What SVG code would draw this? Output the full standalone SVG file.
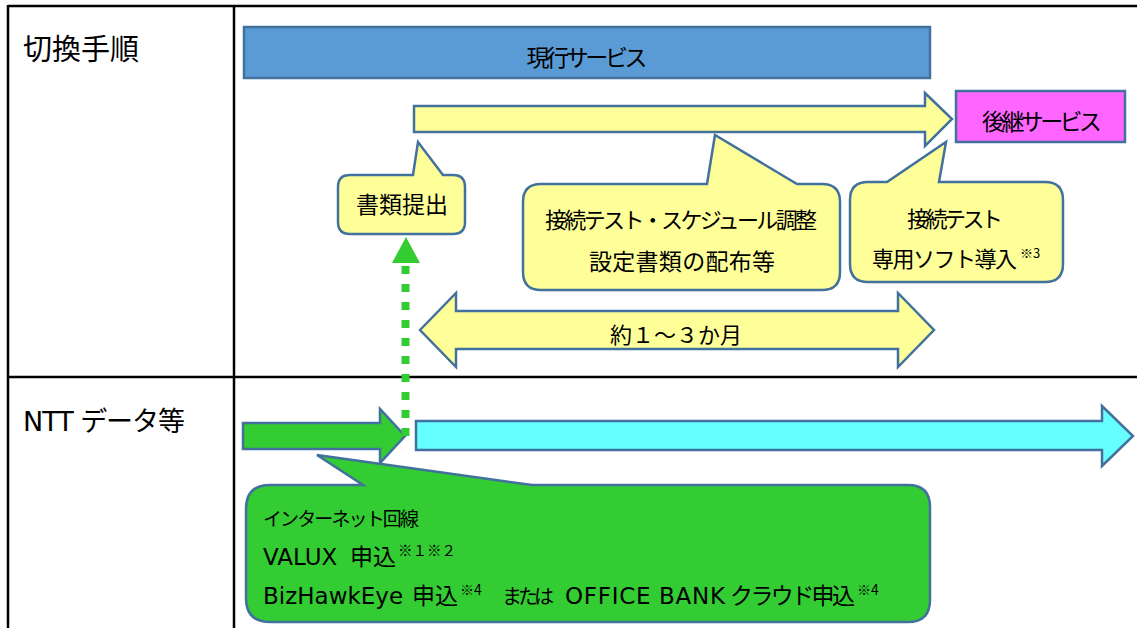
<svg xmlns="http://www.w3.org/2000/svg" width="1137" height="628" viewBox="0 0 1137 628">
<style>
.t{font-family:'DejaVu Sans','Noto Sans CJK JP',sans-serif;fill:#000}
.j{font-family:'Noto Sans CJK JP',sans-serif;fill:#000}
.grid{stroke:#000;stroke-width:2.5;fill:none}
.sh{stroke:#41719C;stroke-width:2.5;stroke-linejoin:miter}
.yel{fill:#FFFF99}
</style>
<rect width="1137" height="628" fill="#fff"/>
<g id="table">
<line class="grid" x1="8" y1="6" x2="1137" y2="6"/>
<line class="grid" x1="8" y1="5" x2="8" y2="628"/>
<line class="grid" x1="234" y1="6" x2="234" y2="628"/>
<line class="grid" x1="8" y1="377" x2="1137" y2="377"/>
<text class="j" x="23" y="60" font-size="29">切換手順</text>
<text class="t" x="23" y="431" font-size="27" textLength="162" lengthAdjust="spacing">NTT データ等</text>
</g>
<g id="connectors">
<polygon class="sh yel" points="414,106 925,106 925,93 952,119 925,146 925,132 414,132"/>
<polygon class="sh yel" points="420,330 456,293 456,311 898,311 898,293 934,330 898,367 898,349 456,349 456,367"/>
<text class="j" x="676" y="343" font-size="22" text-anchor="middle">約１～３か月</text>
<polygon class="sh" fill="#66FFFF" points="416,421 1102,421 1102,406 1133,436 1102,466 1102,450 416,450"/>
<polygon class="sh" fill="#33CC33" points="243,423 380,423 380,409 405,436 380,463 380,449 243,449"/>
<line x1="405.5" y1="436" x2="405.5" y2="263" stroke="#33CC33" stroke-width="8" stroke-dasharray="8 10"/>
<polygon fill="#33CC33" points="392,263 406,237 420,263"/>
</g>
<g id="current-service">
<rect class="sh" x="244" y="27" width="686" height="51" fill="#5B9BD5"/>
<text class="j" x="587" y="66" font-size="23" text-anchor="middle" textLength="121" lengthAdjust="spacing">現行サービス</text>
</g>
<g id="next-service">
<rect class="sh" x="956" y="91" width="169" height="51" fill="#FF66FF"/>
<text class="j" x="1042" y="130" font-size="23" text-anchor="middle" textLength="120" lengthAdjust="spacing">後継サービス</text>
</g>
<g id="callout-documents">
<path class="sh yel" d="M350,175 H413 L418,142 L443,175 H453 Q465,175 465,187 V222 Q465,234 453,234 H350 Q338,234 338,222 V187 Q338,175 350,175 Z"/>
<text class="j" x="402" y="213" font-size="23" text-anchor="middle">書類提出</text>
</g>
<g id="callout-schedule">
<path class="sh yel" d="M541,184 H707 L715,135 L797,184 H822 Q840,184 840,202 V272 Q840,290 822,290 H541 Q523,290 523,272 V202 Q523,184 541,184 Z"/>
<text class="j" x="681" y="228" font-size="22" text-anchor="middle" textLength="272" lengthAdjust="spacing">接続テスト・スケジュール調整</text>
<text class="j" x="682" y="270" font-size="23" text-anchor="middle" textLength="186" lengthAdjust="spacing">設定書類の配布等</text>
</g>
<g id="callout-software">
<path class="sh yel" d="M868,182 H887 L946,142 L939,182 H1045 Q1063,182 1063,200 V264 Q1063,282 1045,282 H868 Q850,282 850,264 V200 Q850,182 868,182 Z"/>
<text class="j" x="955" y="227" font-size="22" text-anchor="middle" textLength="96" lengthAdjust="spacing">接続テスト</text>
<text class="j" x="872" y="267" font-size="22" textLength="145" lengthAdjust="spacing">専用ソフト導入</text>
<text class="j" x="1020" y="258" font-size="13">※3</text>
</g>
<g id="callout-ntt">
<path class="sh" fill="#33CC33" d="M270,485 H363 L317,455 L532,485 H908 Q930,485 930,507 V600 Q930,622 908,622 H270 Q246,622 246,598 V509 Q246,485 270,485 Z"/>
<text class="j" x="263" y="526" font-size="19" textLength="156" lengthAdjust="spacing">インターネット回線</text>
<text class="t" x="263" y="565" font-size="23">VALUX</text>
<text class="j" x="350" y="565" font-size="23">申込</text>
<text class="j" x="398" y="556" font-size="14.5">※１※２</text>
<text class="t" x="263" y="604" font-size="23">BizHawkEye</text>
<text class="j" x="412" y="604" font-size="23">申込</text>
<text class="j" x="460" y="595" font-size="14">※4</text>
<text class="j" x="502" y="604" font-size="20" textLength="52" lengthAdjust="spacing">または</text>
<text class="t" x="565" y="604" font-size="23" textLength="160" lengthAdjust="spacing">OFFICE BANK</text>
<text class="j" x="730" y="604" font-size="23" textLength="125" lengthAdjust="spacing">クラウド申込</text>
<text class="j" x="857" y="595" font-size="14">※4</text>
</g>
</svg>
